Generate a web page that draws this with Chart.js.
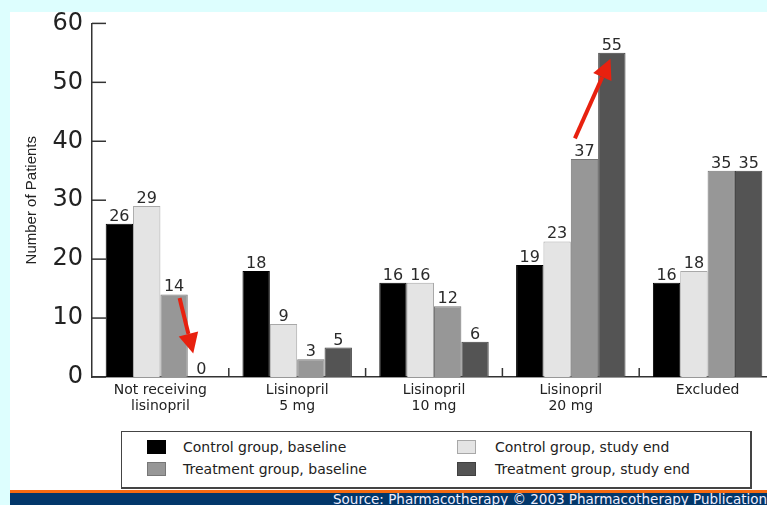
<!DOCTYPE html>
<html>
<head>
<meta charset="utf-8">
<script src="https://cdn.jsdelivr.net/npm/chart.js@4"></script>
<style>
  body { margin: 0; width: 767px; height: 505px; overflow: hidden; background: #ddfefe; position: relative; font-family: "DejaVu Sans", sans-serif; }
  #panel { position: absolute; left: 10px; top: 12px; right: 0; height: 478px; background: #fff; }
  #wrap { position: absolute; left: 0; top: 0; width: 780px; height: 430px; }
  #legend { position: absolute; left: 121px; top: 431px; width: 628px; height: 55px; border: 1px solid #444; border-right-width: 2px; border-bottom-width: 2px; background: #fff; }
  .item { position: absolute; font-size: 14px; color: #222; line-height: 16px; white-space: nowrap; }
  .sw { position: absolute; width: 19px; height: 14px; box-sizing: border-box; border: 1px solid #555; }
  #orange { position: absolute; left: 10px; right: 0; top: 490px; height: 3px; background: #f66a10; }
  #navy { position: absolute; left: 10px; right: 0; top: 493px; height: 12px; background: #02376a; }
  #source { position: absolute; left: 333px; top: 493px; font-size: 13.5px; color: #eef; white-space: nowrap; line-height: 13px; }
</style>
</head>
<body>
<div id="panel"></div>
<div id="wrap"><canvas id="chart" width="780" height="430"></canvas></div>
<div id="legend"></div>
<div id="orange"></div>
<div id="navy"></div>
<div id="source">Source: Pharmacotherapy © 2003 Pharmacotherapy Publications</div>
<script>
const categories = [["Not receiving", "lisinopril"], ["Lisinopril", "5 mg"], ["Lisinopril", "10 mg"], ["Lisinopril", "20 mg"], "Excluded"];
const seriesNames = ["Control group, baseline", "Control group, study end", "Treatment group, baseline", "Treatment group, study end"];
const controlBaseline = [26, 18, 16, 19, 16];
const controlEnd = [29, 9, 16, 23, 18];
const treatmentBaseline = [14, 3, 12, 37, 35];
const treatmentEnd = [0, 5, 6, 55, 35];
// red arrows, in data space: [category index, value]
const arrows = [
  { from: [0.14, 13.4], to: [0.24, 4.0] },
  { from: [3.03, 40.5], to: [3.29, 54.0] }
];

const fills = ["#000000", "#e4e4e4", "#979797", "#545454"];
const edges = ["#000000", "#a8a8a8", "#777777", "#404040"];
const seriesValues = [controlBaseline, controlEnd, treatmentBaseline, treatmentEnd];

const extras = {
  id: "extras",
  afterDatasetsDraw(chart) {
    const ctx = chart.ctx;
    const x = chart.scales.x, y = chart.scales.y;
    ctx.save();
    // value labels
    ctx.font = "16px 'DejaVu Sans'";
    ctx.fillStyle = "#2a2a2a";
    ctx.textAlign = "center";
    ctx.textBaseline = "alphabetic";
    chart.data.datasets.forEach((ds, i) => {
      chart.getDatasetMeta(i).data.forEach((bar, j) => {
        ctx.fillText(String(ds.data[j]), bar.x, bar.y - 3);
      });
    });
    // inward ticks on the y axis
    ctx.strokeStyle = "#333";
    ctx.lineWidth = 1.5;
    y.ticks.forEach(t => {
      const py = y.getPixelForValue(t.value);
      ctx.beginPath();
      ctx.moveTo(x.left, py);
      ctx.lineTo(x.left + 14, py);
      ctx.stroke();
    });
    // small ticks between categories
    for (let i = 0; i < categories.length - 1; i++) {
      const px = x.getPixelForValue(i + 0.5);
      ctx.beginPath();
      ctx.moveTo(px, y.bottom);
      ctx.lineTo(px, y.bottom - 9);
      ctx.stroke();
    }
    // arrows
    ctx.strokeStyle = "#e8210f";
    ctx.fillStyle = "#e8210f";
    ctx.lineWidth = 4;
    arrows.forEach(a => {
      const x1 = x.getPixelForValue(a.from[0]), y1 = y.getPixelForValue(a.from[1]);
      const x2 = x.getPixelForValue(a.to[0]), y2 = y.getPixelForValue(a.to[1]);
      const ang = Math.atan2(y2 - y1, x2 - x1);
      const hl = 20, hw = 10;
      const bx = x2 - hl * Math.cos(ang), by = y2 - hl * Math.sin(ang);
      ctx.beginPath();
      ctx.moveTo(x1, y1);
      ctx.lineTo(bx, by);
      ctx.stroke();
      ctx.beginPath();
      ctx.moveTo(x2, y2);
      ctx.lineTo(bx + hw * Math.sin(ang), by - hw * Math.cos(ang));
      ctx.lineTo(bx - hw * Math.sin(ang), by + hw * Math.cos(ang));
      ctx.closePath();
      ctx.fill();
    });
    ctx.restore();
  }
};

new Chart(document.getElementById("chart"), {
  type: "bar",
  data: {
    labels: categories,
    datasets: seriesNames.map((name, i) => ({
      label: name,
      data: seriesValues[i],
      backgroundColor: fills[i],
      borderColor: edges[i],
      borderWidth: 1,
      categoryPercentage: 0.8,
      barPercentage: 1.0
    }))
  },
  options: {
    responsive: false,
    animation: false,
    layout: { padding: { top: 20, right: 4, left: 0, bottom: 0 } },
    plugins: { legend: { display: false }, tooltip: { enabled: false } },
    scales: {
      x: {
        grid: { display: false, drawTicks: false },
        border: { display: true, color: "#333", width: 1.5 },
        ticks: {
          color: "#222", maxRotation: 0, autoSkip: false, padding: 5,
          font: { family: "DejaVu Sans", size: 14, lineHeight: 1.15 }
        },
        afterFit(scale) { scale.height = 53; }
      },
      y: {
        min: 0, max: 60,
        grid: { display: false, drawTicks: false },
        border: { display: true, color: "#333", width: 1.5 },
        ticks: { stepSize: 10, color: "#222", padding: 9, font: { family: "DejaVu Sans", size: 24 } },
        title: {
          display: true, text: "Number of Patients", color: "#222",
          font: { family: "Liberation Sans", size: 15 },
          padding: { top: 23, bottom: 0 }
        },
        afterFit(scale) { scale.width = 92; }
      }
    }
  },
  plugins: [extras]
});

// legend, two columns
const legend = document.getElementById("legend");
seriesNames.forEach((name, i) => {
  const col = i % 2, row = Math.floor(i / 2);
  const sw = document.createElement("div");
  sw.className = "sw";
  sw.style.left = (col ? 335 : 25) + "px";
  sw.style.top = (row ? 30 : 8) + "px";
  sw.style.background = fills[i];
  sw.style.borderColor = edges[i];
  legend.appendChild(sw);
  const t = document.createElement("div");
  t.className = "item";
  t.style.left = (col ? 373 : 61) + "px";
  t.style.top = (row ? 29 : 7) + "px";
  t.textContent = name;
  legend.appendChild(t);
});
</script>
</body>
</html>
